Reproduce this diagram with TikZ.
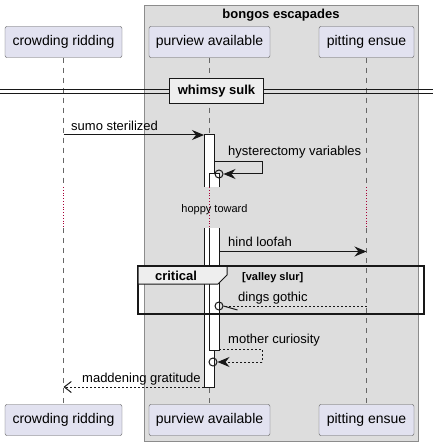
\documentclass[tikz,border=0pt]{standalone}
\usepackage{fontspec}
\setmainfont{Liberation Sans}
\usetikzlibrary{arrows.meta,positioning}

\definecolor{partfill}{HTML}{E2E2F0}
\definecolor{boxfill}{HTML}{DDDDDD}
\definecolor{sepfill}{HTML}{EEEEEE}
\definecolor{delaycol}{HTML}{A80036}
\definecolor{linecol}{HTML}{181818}

\begin{document}
\begin{tikzpicture}[
        x=1pt, y=-1pt,
        >={Stealth[length=12pt, width=10pt, inset=4pt]},
        participant/.style={draw=black!65, fill=partfill, rounded corners=2pt, minimum height=31pt, inner sep=0pt, font=\fontsize{14}{16}\selectfont},
        msglabel/.style={anchor=base west, inner sep=0pt, font=\fontsize{13}{15}\selectfont},
        lifeline/.style={draw=black!60, dash pattern=on 5pt off 5pt},
        delayline/.style={draw=delaycol, dotted, line width=0.8pt},
        bar/.style={draw=linecol, fill=white, line width=1pt},
        msg/.style={draw=linecol, line width=1pt},
        reply/.style={draw=linecol, line width=1pt, dash pattern=on 2pt off 2pt},
        ring/.style={circle, draw=linecol, line width=1pt, minimum size=8pt, inner sep=0pt}
    ]
        \useasboundingbox (0,0) rectangle (440,446);

        % Box
        \filldraw[fill=boxfill, draw=black!45, line width=1pt] (144,6) rectangle (418,441);
        \node (boxtitle) [font=\bfseries\fontsize{13}{15}\selectfont] at (281,15) {bongos escapades};

        % Participants
        \node (crowd) [participant, minimum width=117pt] at (63.5,42) {crowding ridding};
        \node (purv) [participant, minimum width=121pt] at (209.5,42) {purview available};
        \node (pitt) [participant, minimum width=95pt] at (366.5,42) {pitting ensue};
        \node (crowdB) [participant, minimum width=117pt] at (63.5,420) {crowding ridding};
        \node (purvB) [participant, minimum width=121pt] at (209.5,420) {purview available};
        \node (pittB) [participant, minimum width=95pt] at (366.5,420) {pitting ensue};

        % Lifelines with delay
        \coordinate (dtop) at (0,187);
        \coordinate (dbot) at (0,228);
        \foreach \p/\q in {crowd/crowdB, purv/purvB, pitt/pittB} {
            \draw[lifeline] (\p.south) -- (\p.south |- dtop);
            \draw[delayline] (\p.south |- dtop) -- (\p.south |- dbot);
            \draw[lifeline] (\p.south |- dbot) -- (\q.north);
        }
        \node (delay) [inner sep=0pt, anchor=base, font=\fontsize{11}{13}\selectfont] at (214.5,212) {hoppy toward};

        % Separator
        \draw[linecol, line width=1pt] (0,89.5) -- (433,89.5);
        \draw[linecol, line width=1pt] (0,93.5) -- (433,93.5);
        \node (sep) [draw=linecol, line width=1.6pt, fill=sepfill, minimum width=94pt, minimum height=25pt, font=\bfseries\fontsize{13}{15}\selectfont] at (216.5,91) {whimsy sulk};

        % Activations
        \filldraw[bar] (204,187) -- (204,135) -- (214,135) -- (214,187);
        \filldraw[bar] (204,228) -- (204,387) -- (214,387) -- (214,228);
        \filldraw[bar] (209,187) -- (209,174) -- (219,174) -- (219,187);
        \filldraw[bar] (209,228) -- (209,350) -- (219,350) -- (219,228);

        % Messages
        \coordinate (m1a) at (crowd.south |- 0,135);
        \coordinate (m1b) at (204,135);
        \draw[msg, ->] (m1a) -- (m1b);
        \node (m1) [msglabel] at (71,130.5) {sumo sterilized};

        \coordinate (m2a) at (214,161.5);
        \node (c1) [ring] at (219,174) {};
        \draw[msg, ->] (m2a) -- (262,161.5) |- (c1.east);
        \node (m2) [msglabel] at (228,156) {hysterectomy variables};

        \coordinate (m3a) at (219,251.5);
        \coordinate (m3b) at (pitt.south |- 0,251.5);
        \draw[msg, ->] (m3a) -- (m3b);
        \node (m3) [msglabel] at (228,246) {hind loofah};

        \coordinate (m4a) at (pitt.south |- 0,306);
        \node (c2) [ring] at (219,306) {};
        \draw[reply] (m4a) -- (c2.east);
        \draw[linecol, line width=1pt] (c2.east) -- ++(14,4);
        \node (m4) [msglabel] at (238,301.5) {dings gothic};

        \coordinate (m5a) at (219,349);
        \node (c3) [ring] at (213,362) {};
        \draw[reply] (m5a) -- (262,349) -- (262,362);
        \draw[reply, ->, >={Stealth[length=12pt, width=10pt, inset=4pt]}] (262,362) -- (c3.east);
        \node (m5) [msglabel] at (228,343.5) {mother curiosity};

        \coordinate (m6a) at (204,387);
        \coordinate (m6b) at (crowd.south |- 0,387);
        \draw[reply, -{Straight Barb[length=7pt, width=11pt, line width=1pt]}] (m6a) -- (m6b);
        \node (m6) [msglabel] at (82,382.5) {maddening gratitude};

        % Group
        \draw[linecol, line width=1.6pt] (138,266) rectangle (424,314);
        \filldraw[fill=sepfill, draw=linecol, line width=1pt] (138,266) -- (227,266) -- (227,275) -- (218,284) -- (138,284) -- cycle;
        \draw[linecol, line width=1.6pt] (138,266) -- (424,266);
        \node (grp) [inner sep=0pt, anchor=base, font=\bfseries\fontsize{13}{15}\selectfont] at (176,280.5) {critical};
        \node (guard) [inner sep=0pt, anchor=base west, font=\bfseries\fontsize{11}{13}\selectfont] at (242,280) {[valley slur]};

    \end{tikzpicture}
\end{document}
